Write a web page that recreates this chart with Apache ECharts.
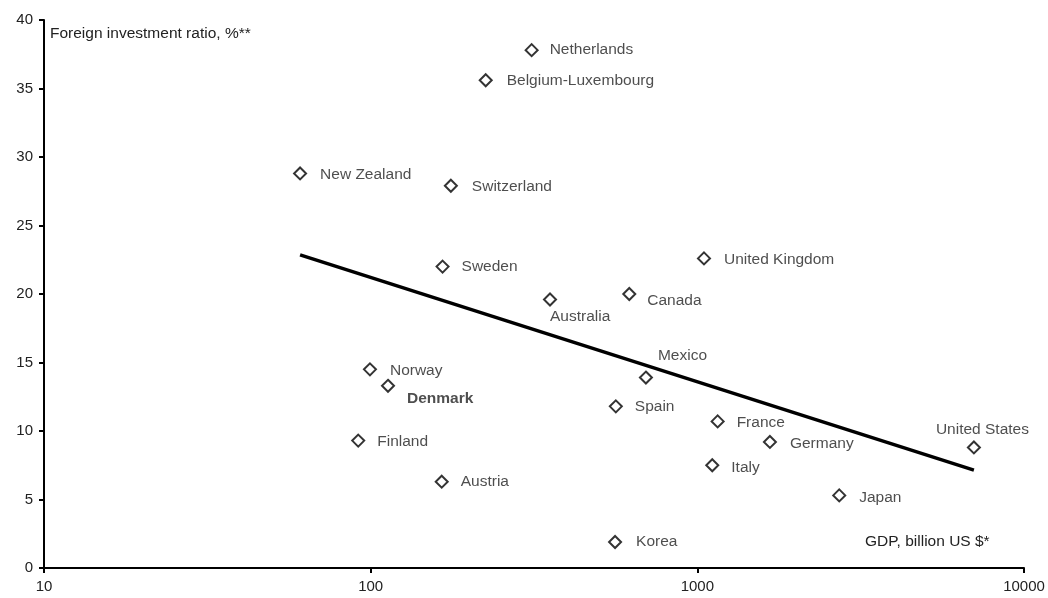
<!DOCTYPE html>
<html>
<head>
<meta charset="utf-8">
<script src="https://cdn.jsdelivr.net/npm/echarts@6/dist/echarts.min.js"></script>
<style>
  html, body { margin: 0; padding: 0; background: #fff; }
  #chart { width: 1048px; height: 598px; }
</style>
</head>
<body>
<div id="chart"></div>
<script>
// Country data: GDP (billion US $, log scale) vs foreign investment ratio (%)
const countries = ['Netherlands', 'Belgium-Luxembourg', 'New Zealand', 'Switzerland', 'Sweden',
  'United Kingdom', 'Australia', 'Canada', 'Norway', 'Denmark', 'Mexico', 'Spain',
  'France', 'Finland', 'Germany', 'United States', 'Italy', 'Austria', 'Japan', 'Korea'];
const gdp = [311, 225, 60.8, 176, 166, 1048, 354, 619, 99.5, 113, 696, 563,
  1154, 91.6, 1668, 7025, 1111, 165, 2719, 560];
const ratio = [37.8, 35.6, 28.8, 27.9, 22.0, 22.6, 19.6, 20.0, 14.5, 13.3, 13.9, 11.8,
  10.7, 9.3, 9.2, 8.8, 7.5, 6.3, 5.3, 1.9];

// Logarithmic trend line endpoints
const trendGdp = [60.8, 7025];
const trendRatio = [22.85, 7.15];

// Axis tick labels
const xTicks = [10, 100, 1000, 10000];
const yTicks = [0, 5, 10, 15, 20, 25, 30, 35, 40];

// Label placement per country (offset from the default right-hand position)
const labelOffset = {
  'Netherlands': [6, 0], 'Belgium-Luxembourg': [9, 0], 'New Zealand': [8, 1],
  'Switzerland': [9, 1], 'Sweden': [7, 0], 'United Kingdom': [8, 1],
  'Australia': [-12, 17], 'Canada': [6, 7], 'Norway': [8, 1], 'Denmark': [7, 13],
  'Mexico': [0, -22], 'Spain': [7, 0], 'France': [7, 1], 'Finland': [7, 1],
  'Germany': [8, 2], 'United States': [-50, -18], 'Italy': [7, 2], 'Austria': [7, 0],
  'Japan': [8, 2], 'Korea': [9, 0]
};

const FONT = '"Liberation Sans", Arial, sans-serif';
const TEXT = '#222';

const points = countries.map((name, i) => ({
  name: name,
  value: [gdp[i], ratio[i]],
  label: {
    offset: labelOffset[name],
    fontWeight: name === 'Denmark' ? 'bold' : 'normal'
  }
}));

const chart = echarts.init(document.getElementById('chart'), null, { renderer: 'canvas' });

chart.setOption({
  animation: false,
  backgroundColor: '#fff',
  grid: { left: 44, right: 24, top: 20, bottom: 30, containLabel: false },
  xAxis: {
    type: 'log',
    logBase: 10,
    min: xTicks[0],
    max: xTicks[xTicks.length - 1],
    splitLine: { show: false },
    minorTick: { show: false },
    axisLine: { show: true, lineStyle: { color: '#000', width: 2 } },
    axisTick: { show: true, inside: false, length: 5, lineStyle: { color: '#000', width: 2 } },
    axisLabel: {
      color: TEXT, fontFamily: FONT, fontSize: 15, margin: 11,
      formatter: v => String(Math.round(v))
    }
  },
  yAxis: {
    type: 'value',
    min: yTicks[0],
    max: yTicks[yTicks.length - 1],
    interval: 5,
    splitLine: { show: false },
    axisLine: { show: true, lineStyle: { color: '#000', width: 2 } },
    axisTick: { show: true, inside: false, length: 5, lineStyle: { color: '#000', width: 2 } },
    axisLabel: { color: TEXT, fontFamily: FONT, fontSize: 15, margin: 11 }
  },
  graphic: [
    {
      type: 'text', left: 50, top: 26,
      style: { text: 'Foreign investment ratio, %**', fill: TEXT, font: '15.5px ' + FONT }
    },
    {
      type: 'text', left: 865, top: 534,
      style: { text: 'GDP, billion US $*', fill: TEXT, font: '15.5px ' + FONT }
    }
  ],
  series: [
    {
      type: 'line',
      data: trendGdp.map((g, i) => [g, trendRatio[i]]),
      showSymbol: false,
      symbol: 'none',
      lineStyle: { color: '#000', width: 3.5 },
      z: 2
    },
    {
      type: 'scatter',
      data: points,
      symbol: 'diamond',
      symbolSize: [12, 12],
      itemStyle: { color: '#fff', borderColor: '#000', borderWidth: 2 },
      label: {
        show: true,
        position: 'right',
        distance: 5,
        formatter: p => p.name,
        color: TEXT,
        fontFamily: FONT,
        fontSize: 15.5
      },
      z: 3
    }
  ]
});
</script>
</body>
</html>
